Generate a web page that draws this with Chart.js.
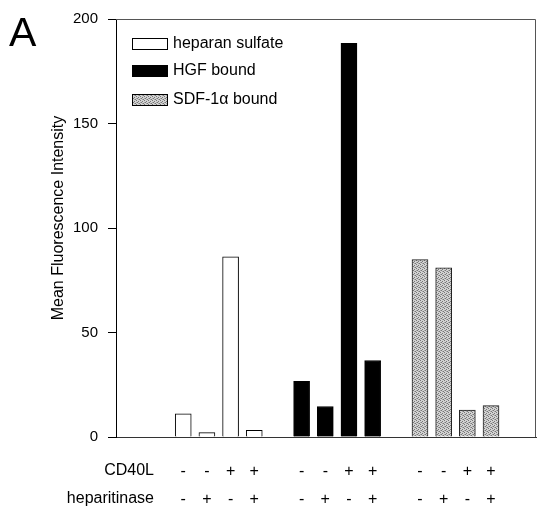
<!DOCTYPE html>
<html>
<head>
<meta charset="utf-8">
<script src="https://cdn.jsdelivr.net/npm/chart.js@4"></script>
<style>
  body { margin: 0; background: #fff; }
</style>
</head>
<body>
<canvas id="chart" width="537" height="508"></canvas>
<script>
// bar slots on the x axis (gaps at 5 and 10)
const heparanPos = [1, 2, 3, 4];
const hgfPos = [6, 7, 8, 9];
const sdfPos = [11, 12, 13, 14];

const heparanSulfate = [11.1, 2.1, 86.2, 3.2];
const hgfBound = [26.6, 14.6, 188.4, 36.6];
const sdfBound = [84.9, 80.9, 12.9, 15.0];

const seriesNames = ['heparan sulfate', 'HGF bound', 'SDF-1\u03b1 bound'];

// +/- rows under each bar
const cd40l = ['-', '-', '+', '+', '-', '-', '+', '+', '-', '-', '+', '+'];
const heparitinase = ['-', '+', '-', '+', '-', '+', '-', '+', '-', '+', '-', '+'];
const rowLabels = ['CD40L', 'heparitinase'];

const yTicks = [0, 50, 100, 150, 200];

const FONT = "'Liberation Sans', Arial, sans-serif";

// stippled grey fill for the SDF bars
function stipple() {
    const c = document.createElement('canvas');
    c.width = 4; c.height = 4;
    const g = c.getContext('2d');
    g.fillStyle = '#d2d2d2';
    g.fillRect(0, 0, 4, 4);
    g.fillStyle = '#777';
    [[0, 0], [2, 1], [1, 2], [3, 3]].forEach(p => g.fillRect(p[0], p[1], 1, 1));
    g.fillStyle = '#a6a6a6';
    [[2, 3], [0, 2]].forEach(p => g.fillRect(p[0], p[1], 1, 1));
    return g.createPattern(c, 'repeat');
}

const allPos = heparanPos.concat(hgfPos, sdfPos);
const toPoints = (pos, vals) => pos.map((p, i) => ({ x: p, y: vals[i] }));

const extras = {
    id: 'extras',
    afterDraw(chart) {
        const ctx = chart.ctx;
        const a = chart.chartArea;
        ctx.save();
        // frame top + right
        ctx.strokeStyle = '#555';
        ctx.lineWidth = 1;
        ctx.beginPath();
        ctx.moveTo(a.left, a.top + 0.5);
        ctx.lineTo(a.right - 0.5, a.top + 0.5);
        ctx.lineTo(a.right - 0.5, a.bottom);
        ctx.stroke();

        // panel letter
        ctx.fillStyle = '#000';
        ctx.font = '41px ' + FONT;
        ctx.textAlign = 'left';
        ctx.textBaseline = 'alphabetic';
        ctx.fillText('A', 9, 46);

        // y title
        ctx.save();
        ctx.translate(63, 218);
        ctx.rotate(-Math.PI / 2);
        ctx.font = '16px ' + FONT;
        ctx.textAlign = 'center';
        ctx.textBaseline = 'alphabetic';
        ctx.fillText('Mean Fluorescence Intensity', 0, 0);
        ctx.restore();

        // row labels for the +/- rows
        ctx.font = '16px ' + FONT;
        ctx.textAlign = 'right';
        ctx.textBaseline = 'middle';
        ctx.fillText(rowLabels[0], 154, 471);
        ctx.fillText(rowLabels[1], 154, 499);

        // legend
        const rows = [44, 71, 100];
        chart.data.datasets.forEach((ds, i) => {
            const y = rows[i];
            ctx.fillStyle = ds.backgroundColor;
            ctx.fillRect(132, y - 6, 36, 12);
            ctx.strokeStyle = '#000';
            ctx.lineWidth = 1;
            ctx.strokeRect(132.5, y - 5.5, 35, 11);
            ctx.fillStyle = '#000';
            ctx.font = '16px ' + FONT;
            ctx.textAlign = 'left';
            ctx.textBaseline = 'middle';
            ctx.fillText(ds.label, 173, y);
        });
        ctx.restore();
    }
};

new Chart(document.getElementById('chart'), {
    type: 'bar',
    data: {
        datasets: [{
            label: seriesNames[0],
            data: toPoints(heparanPos, heparanSulfate),
            backgroundColor: '#ffffff',
            borderColor: '#000',
            borderWidth: 1
        }, {
            label: seriesNames[1],
            data: toPoints(hgfPos, hgfBound),
            backgroundColor: '#000000',
            borderColor: '#000',
            borderWidth: 1
        }, {
            label: seriesNames[2],
            data: toPoints(sdfPos, sdfBound),
            backgroundColor: stipple(),
            borderColor: '#222',
            borderWidth: 1
        }]
    },
    options: {
        responsive: false,
        animation: false,
        grouped: false,
        barThickness: 16,
        layout: { padding: { left: 0, top: 19, right: 1, bottom: 0 } },
        plugins: {
            legend: { display: false },
            tooltip: { enabled: false }
        },
        scales: {
            x: {
                type: 'linear',
                offset: false,
                min: -1.84,
                max: 15.9,
                afterBuildTicks: s => { s.ticks = allPos.map(v => ({ value: v })); },
                afterFit: s => { s.height = 71; },
                grid: { display: false },
                border: { color: '#333', width: 1 },
                ticks: {
                    autoSkip: false,
                    maxRotation: 0,
                    padding: 13,
                    color: '#000',
                    font: { family: FONT, size: 16, lineHeight: 1.75 },
                    callback: v => {
                        const i = allPos.indexOf(v);
                        return i < 0 ? '' : [cd40l[i], heparitinase[i]];
                    }
                }
            },
            y: {
                min: 0,
                max: 200,
                afterBuildTicks: s => { s.ticks = yTicks.map(v => ({ value: v })); },
                afterFit: s => { s.width = 116; },
                grid: { drawOnChartArea: false, tickLength: 8, color: '#000' },
                border: { color: '#000', width: 1 },
                ticks: {
                    padding: 10,
                    color: '#000',
                    font: { family: FONT, size: 15 }
                }
            }
        }
    },
    plugins: [extras]
});
</script>
</body>
</html>
